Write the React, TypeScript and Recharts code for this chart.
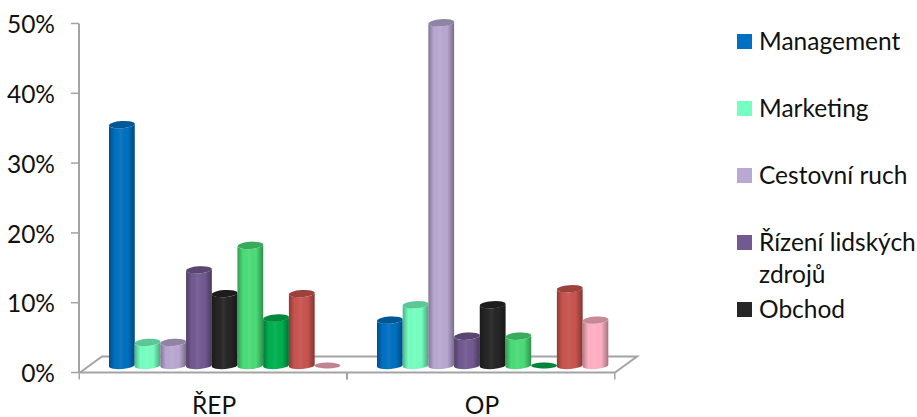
import { Bar, BarChart, XAxis, YAxis } from "recharts";

const categories = ["ŘEP", "OP"];
const yTicks = [0, 10, 20, 30, 40, 50];

const seriesNames = [
  "Management",
  "Marketing",
  "Cestovní ruch",
  "Řízení lidských zdrojů",
  "Obchod",
  "Finance",
  "Ekonomika",
  "Právo",
  "Ostatní",
];
const seriesColors = [
  "#0070c0",
  "#75ffc0",
  "#b9a8d2",
  "#725a91",
  "#262626",
  "#4bdc78",
  "#00b050",
  "#c9544f",
  "#ffafc3",
];

const management = [34.5, 6.5];
const marketing = [3.3, 8.7];
const cestovniRuch = [3.3, 49.1];
const rizeni = [13.7, 4.2];
const obchod = [10.3, 8.7];
const finance = [17.2, 4.2];
const ekonomika = [6.8, 0];
const pravo = [10.3, 11];
const ostatni = [0, 6.5];

const seriesValues = [
  management,
  marketing,
  cestovniRuch,
  rizeni,
  obchod,
  finance,
  ekonomika,
  pravo,
  ostatni,
];

const data = categories.map((name, c) => {
  const row: Record<string, string | number> = { name };
  seriesNames.forEach((s, i) => {
    row[s] = seriesValues[i][c];
  });
  return row;
});

const WIDTH = 917;
const HEIGHT = 417;
const PLOT = { left: 80, right: 615, top: 23.5, bottom: 372.5 };
const DEPTH_X = 22;
const DEPTH_Y = 16;
const AXIS_COLOR = "#a3a3a3";
const FONT = "Lato, Carlito, Calibri, sans-serif";
const FONT_SIZE = 24.5;

// the 3D look pushes every column half way into the floor
function makeCylinder(color: string) {
  return function Cylinder(props: any) {
    const { x, y, width, height } = props;
    const left = x + DEPTH_X / 2 + 1;
    const right = left + width;
    const top = y - DEPTH_Y / 2 + 1;
    const base = top + height;
    const rx = width / 2;
    if (height < 1) {
      return (
        <g>
          <ellipse cx={left + rx} cy={base} rx={rx} ry={3} fill={color} />
          <ellipse cx={left + rx} cy={base} rx={rx} ry={3} fill="#000" fillOpacity={0.25} />
        </g>
      );
    }
    const body = `M${left} ${top + 1} L${left} ${base + 1} A${rx} 3.6 -4 0 0 ${right} ${base - 1} L${right} ${top - 1} A${rx} 3.6 -4 0 1 ${left} ${top + 1} Z`;
    return (
      <g>
        <path d={body} fill={color} />
        <path d={body} fill="url(#cylShade)" />
        <ellipse cx={left + rx} cy={top} rx={rx} ry={3.6} fill={color} transform={`rotate(-4 ${left + rx} ${top})`} />
        <ellipse cx={left + rx} cy={top} rx={rx} ry={3.6} fill="#000" fillOpacity={0.22} transform={`rotate(-4 ${left + rx} ${top})`} />
      </g>
    );
  };
}

function CategoryTick({ x, payload }: any) {
  const half = (PLOT.right - PLOT.left) / 4;
  return (
    <g>
      <line x1={x - half} x2={x - half} y1={PLOT.bottom} y2={PLOT.bottom + 7} stroke={AXIS_COLOR} strokeWidth={1.5} />
      <line x1={x + half} x2={x + half} y1={PLOT.bottom} y2={PLOT.bottom + 7} stroke={AXIS_COLOR} strokeWidth={1.5} />
      <text x={x + 1} y={PLOT.bottom + 41} textAnchor="middle" fontSize={FONT_SIZE} fontFamily={FONT} fill="#111">
        {payload.value}
      </text>
    </g>
  );
}

function Floor() {
  const { left, right, bottom } = PLOT;
  const back = bottom - DEPTH_Y;
  return (
    <polyline
      points={`${left},${bottom} ${left + DEPTH_X},${back} ${right + DEPTH_X},${back} ${right},${bottom}`}
      fill="none"
      stroke={AXIS_COLOR}
      strokeWidth={2}
    />
  );
}

function ChartLegend() {
  return (
    <div style={{ position: "absolute", left: 737, top: 0, fontFamily: FONT, fontSize: FONT_SIZE, color: "#111" }}>
      {seriesNames.slice(0, 5).map((name, i) => (
        <div key={name} style={{ position: "absolute", left: 0, top: 34 + i * 67, width: 180 }}>
          <span
            style={{
              position: "absolute",
              left: 0,
              top: 0,
              width: 15,
              height: 15,
              background: seriesColors[i],
            }}
          />
          <span style={{ position: "absolute", left: 22, top: -9, lineHeight: "32px", width: 165 }}>{name}</span>
        </div>
      ))}
    </div>
  );
}

export default function App() {
  return (
    <div style={{ position: "absolute", left: 0, top: 0, width: WIDTH, height: HEIGHT, background: "#fff" }}>
      <BarChart
        width={WIDTH}
        height={HEIGHT}
        data={data}
        barSize={25.7}
        barGap={0}
        margin={{ top: PLOT.top, right: WIDTH - PLOT.right, bottom: 0, left: 0 }}
      >
        <defs>
          <linearGradient id="cylShade" x1="0" y1="0" x2="1" y2="0">
            <stop offset="0%" stopColor="#000" stopOpacity={0.3} />
            <stop offset="22%" stopColor="#000" stopOpacity={0} />
            <stop offset="45%" stopColor="#fff" stopOpacity={0.06} />
            <stop offset="72%" stopColor="#000" stopOpacity={0} />
            <stop offset="100%" stopColor="#000" stopOpacity={0.35} />
          </linearGradient>
        </defs>
        <Floor />
        <XAxis
          dataKey="name"
          height={HEIGHT - PLOT.bottom}
          axisLine={{ stroke: AXIS_COLOR, strokeWidth: 2 }}
          tickLine={false}
          tick={<CategoryTick />}
          interval={0}
        />
        <YAxis
          width={PLOT.left - 1}
          domain={[0, 50]}
          ticks={yTicks}
          tickFormatter={(v) => `${v}%`}
          axisLine={{ stroke: AXIS_COLOR, strokeWidth: 2 }}
          tickLine={{ stroke: AXIS_COLOR, strokeWidth: 1.5 }}
          tickSize={8}
          tickMargin={16}
          tick={{ fontSize: FONT_SIZE, fontFamily: FONT, fill: "#111", dy: 1 }}
        />
        {seriesNames.map((name, i) => (
          <Bar
            key={name}
            dataKey={name}
            fill={seriesColors[i]}
            shape={makeCylinder(seriesColors[i])}
            isAnimationActive={false}
          />
        ))}
      </BarChart>
      <ChartLegend />
    </div>
  );
}
